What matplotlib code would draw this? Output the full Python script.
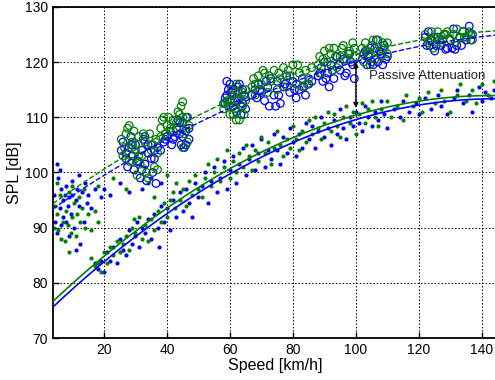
"""
SPL vs speed: microphone level with/without passive attenuation
"""
import matplotlib
matplotlib.use('Agg')
import matplotlib.pyplot as plt
import numpy as np

plt.rcParams['font.family'] = ['Liberation Sans', 'DejaVu Sans']

BLUE = (0, 0, 1)
GREEN = (0, 0.5, 0)

# --- small dots at low speed (not part of the fit) ---
blue_low_speed = [4.5, 5, 5.5, 6, 6.5, 5, 6, 7, 7.5, 8, 8.5, 9, 9.5, 10, 10.5, 11, 11.5, 12, 12.5, 13,
                  13.5, 14, 15, 16, 17, 6.5, 8, 9, 11, 4.2, 7, 10, 12, 14.5, 19,
                  20, 22, 25, 28, 32, 35, 38]
blue_low_spl = [91, 101.5, 99, 100.5, 97, 89, 93.5, 92, 96, 97.5, 94, 95.5, 92.5, 96, 90, 95, 97, 94, 87, 96.5,
                91, 98, 96, 93.5, 97, 90.5, 91, 88.5, 86, 96, 95, 98.5, 99.5, 94.5, 95.5,
                97, 96, 98, 96.5, 97, 99, 98]
green_low_speed = [4.2, 4.5, 5, 5.5, 6, 6.5, 7, 7.5, 8, 8.5, 9, 9.5, 10, 10.5, 11, 11.5, 12, 12.5, 13, 13.5,
                   14, 15, 16, 17, 18, 9, 10, 5,
                   18, 23, 27, 30, 34, 36, 40, 33]
green_low_spl = [90, 94, 92.5, 89.5, 96, 88, 91, 87.5, 93, 90.5, 96.5, 89, 92, 94.5, 88.5, 92.5, 95.5, 91, 93.5, 97,
                 90, 92.5, 89.5, 93, 91, 85.5, 97.5, 98,
                 97.5, 99, 97, 100, 98, 95.5, 99.5, 101]

# --- small dots (attenuated level), blue series ---
blue_dot_speed = [17, 18, 19, 20, 21, 22, 23, 24, 25, 26, 27, 28, 29, 30, 30.5, 31, 32, 33, 34, 35,
                  36, 37, 37.5, 38, 39, 40, 41, 42, 43, 44, 45, 46, 47, 48, 49, 50, 51, 52, 53, 54,
                  55, 56, 57, 58, 59, 60, 61, 62, 63, 64, 65, 66, 67, 68, 69, 70, 71, 72, 73, 74,
                  75, 76, 77, 78, 79, 80, 81, 82, 83, 84, 85, 86, 87, 88, 89, 90, 91, 92, 93, 94,
                  95, 96, 97, 98, 99, 100, 101, 102, 103, 104, 105, 106, 107, 108, 109, 110, 112, 114, 115, 117,
                  119, 120, 122, 124, 126, 127, 129, 131, 132, 134, 136, 137, 139, 140, 141, 143, 144]
blue_dot_spl = [83.5, 82.5, 84, 82, 85.5, 84, 86.5, 83.5, 88, 86, 85, 89.5, 87, 88.5, 91, 86.5, 90, 89, 91.5, 88,
                92.5, 90, 86.5, 94, 91, 93.5, 89.5, 95, 92, 96.5, 93, 97, 94.5, 92, 98, 95.5, 97.5, 100, 94.5, 98.5,
                101, 96.5, 99, 102, 97, 100.5, 103, 98, 101.5, 104.5, 99.5, 102.5, 105, 100.5, 103.5, 106, 101, 104, 102.5, 107,
                104, 101.5, 106.5, 103.5, 108, 105.5, 103, 107, 104.5, 109, 106, 108.5, 104.5, 107.5, 110, 106.5, 108, 105, 109.5, 107,
                111.5, 108, 106, 110, 108.5, 111, 109, 107.5, 112, 110, 108.5, 111, 109.5, 113, 110.5, 108, 111.5, 110, 113, 111,
                112.5, 110.5, 113.5, 111.5, 114, 112, 110.5, 113.5, 115, 112.5, 114, 111, 115.5, 113, 114.5, 113.5, 115]

# --- small dots, green series ---
green_dot_speed = [16, 17, 18, 19, 20, 21, 22, 23, 24, 25, 26, 27, 28, 29, 29.5, 30, 31, 32, 33, 34,
                   35, 36, 37, 38, 39, 40, 41, 42, 42.5, 43, 44, 45, 46, 47, 48, 49, 50, 51, 52, 53,
                   54, 55, 56, 57, 58, 59, 60, 61, 62, 63, 64, 65, 66, 67, 68, 69, 70, 71, 72, 73,
                   74, 75, 76, 77, 78, 79, 80, 81, 82, 83, 84, 85, 86, 87, 88, 89, 90, 91, 92, 93,
                   94, 95, 96, 97, 98, 99, 100, 101, 102, 103, 104, 105, 106, 107, 108, 110, 111, 113, 115, 116,
                   118, 120, 121, 123, 125, 127, 128, 130, 132, 133, 135, 137, 138, 140, 142, 144]
green_dot_spl = [84.5, 83, 83.5, 82, 85.5, 83.5, 86.5, 85, 87.5, 85.5, 87, 88.5, 86, 90, 91.5, 89, 92, 88, 90.5, 87.5,
                 91.5, 89.5, 93, 91, 94.5, 92, 95, 96.5, 93.5, 98, 95, 97, 94, 98.5, 96, 99.5, 97, 95.5, 99, 101.5,
                 97.5, 100, 102.5, 98.5, 101, 104, 99, 102, 100, 103.5, 101, 105, 103, 100.5, 104, 102, 106.5, 103.5, 105.5, 101.5,
                 104.5, 107.5, 105, 103, 106, 104.5, 108.5, 106, 104, 107.5, 105.5, 109.5, 107, 110, 108, 106, 109, 111, 107.5, 110.5,
                 108.5, 106.5, 110, 112, 109, 111, 107, 110.5, 112.5, 109, 111.5, 113, 110, 108.5, 111.5, 113, 110, 112, 109.5, 114,
                 112, 113.5, 111, 114.5, 112.5, 115, 113, 111, 114, 116, 113, 115, 112.5, 116, 114, 116.5]

# --- open circles (unattenuated level), blue series ---
blue_circ_speed = [25.5, 26, 27, 27.5, 28, 29, 29.5, 30, 31, 31.5, 32, 33, 33.5, 34, 35, 35.5, 36, 37, 36.5, 32.5, 28.5,
                   27, 29, 30.5, 32, 34, 35, 36, 33,
                   38, 39, 40, 41, 42, 43, 44, 44.5, 45, 45.5, 46, 46.5, 47, 43.5, 41.5,
                   39.5, 42.5, 44, 45, 46, 47,
                   58, 58.5, 59, 59.5, 60, 60.5, 61, 61.5, 62, 62.5, 63, 63.5, 64, 64.5, 65,
                   59, 60, 61, 62, 63, 64,
                   67, 68, 68.5, 69, 70, 71, 72, 73, 74, 74.5, 75, 76, 77, 78, 79, 80, 81, 82, 83, 84, 85, 72.5,
                   69.5, 71.5, 75.5, 77.5, 80.5, 83.5, 86,
                   88, 89, 89.5, 90, 91, 91.5, 92, 93, 94, 95, 96, 97, 98, 99, 99.5,
                   88.5, 90.5, 92.5, 94.5, 96.5, 98.5,
                   102, 103, 103.5, 104, 105, 105.5, 106, 107, 108, 108.5, 109, 110, 106.5,
                   102.5, 104.5, 107.5, 109.5,
                   122, 123, 123.5, 124, 125, 126, 127, 128, 129, 130, 131, 132, 133, 134, 135, 136, 137, 128.5, 131.5,
                   122.5, 125.5, 127.5, 130.5, 133.5, 136.5]
blue_circ_spl = [104, 105.5, 102.5, 101, 104.5, 103, 100.5, 105, 102, 99, 104, 101.5, 98.5, 103.5, 105, 100, 102.5, 104.5, 98, 106, 106.5,
                 103.5, 105, 102, 100.5, 105, 102.5, 104, 106.5,
                 104, 105.5, 106.5, 107.5, 106, 108, 107, 105, 109, 104.5, 107.5, 110, 106, 109.5, 105,
                 106, 106.5, 109, 106.5, 105, 108,
                 112.5, 113.5, 114, 115, 116, 114.5, 112, 113, 111, 115.5, 113.5, 110.5, 112.5, 114, 111.5,
                 116.5, 113, 115, 113.5, 116, 115,
                 114, 115, 113.5, 116, 114.5, 113, 115.5, 117, 114, 112, 116.5, 112.5, 115.5, 117.5, 114.5, 116.5, 113.5, 115, 117, 114, 116, 112,
                 115, 116.5, 114, 116, 115, 115.5, 116.5,
                 117.5, 119, 116.5, 120, 118, 115.5, 119.5, 117, 121, 118.5, 120.5, 118, 121.5, 119.5, 117,
                 118, 117, 118.5, 119.5, 117.5, 120,
                 120.5, 122, 119.5, 121, 120, 119.5, 122.5, 120, 121.5, 119.5, 123, 121, 124,
                 121.5, 122.5, 122, 120.5,
                 124.5, 125.5, 123, 124, 122, 124.5, 123, 125, 122.5, 124, 126, 123, 124.5, 125.5, 124, 126.5, 125, 122.3, 122.3,
                 123, 123, 124, 122.5, 123, 124]

# --- open circles, green series ---
green_circ_speed = [25.5, 26, 27, 27.5, 28, 28.5, 29, 29.5, 30, 31, 31.5, 32, 33, 33.5, 34, 34.5, 35, 36, 36.5, 37, 30.5,
                    26.5, 28, 29, 31, 32.5, 35.5, 37,
                    38, 38.5, 39, 40, 41, 42, 43, 44, 44.5, 45, 45.5, 46, 46.5, 47, 45, 39.5,
                    38, 40.5, 42, 43.5, 45, 46,
                    58, 59, 59.5, 60, 60.5, 61, 61.5, 62, 62.5, 63, 63.5, 64, 64.5, 65, 62,
                    58.5, 60, 61, 62.5, 64, 65,
                    67, 67.5, 68, 69, 70, 71, 72, 73, 74, 75, 76, 77, 78, 79, 80, 81, 82, 83, 84, 85, 86,
                    68, 70.5, 72.5, 75.5, 78.5, 81.5, 84.5,
                    88, 88.5, 89, 90, 91, 92, 92.5, 93, 94, 95, 96, 97, 98, 99, 100,
                    89.5, 91.5, 93.5, 95.5, 97.5, 99.5,
                    102, 102.5, 103, 104, 105, 106, 106.5, 107, 108, 109, 110, 104.5,
                    103.5, 105.5, 108.5, 110,
                    122, 123, 124, 125, 126, 127, 128, 129, 130, 131, 132, 133, 134, 135, 136, 137, 124.5,
                    123.5, 126.5, 128.5, 131.5, 134.5, 136.5]
green_circ_spl = [106, 103, 107, 108, 108.5, 105, 102, 107.5, 104, 106.5, 101.5, 103, 105.5, 100, 99, 107, 104, 101, 106, 103.5, 99.5,
                  104.5, 102, 105.5, 103, 107, 105, 100.5,
                  106.5, 109.5, 110, 108.5, 108, 107.5, 109, 110.5, 112, 112.8, 107, 110, 105.5, 108.5, 104.5, 107,
                  108, 110, 109.5, 111, 110, 108,
                  111.5, 113, 112, 110.5, 115, 114, 111.5, 116, 113, 109.5, 112, 114.5, 110.5, 113, 109.5,
                  112.5, 113, 110.5, 114.5, 112, 115,
                  115.5, 117, 114, 117.5, 116, 118, 114.5, 116.5, 118.5, 115, 117, 119, 115.5, 117.5, 119.5, 116, 118, 115.5, 118.5, 117, 119,
                  116, 118.5, 117.5, 118, 118.5, 119.5, 116,
                  119.5, 121, 118, 122, 120, 121.5, 118.5, 122.5, 119, 121, 123, 120.5, 122, 123.5, 121,
                  120.5, 122.5, 121, 122.5, 121.5, 122.5,
                  122.5, 120, 123.5, 121.5, 123, 120.5, 122, 124, 121, 122.5, 123.5, 119.5,
                  122, 124, 123.5, 121.5,
                  125, 123.5, 125.5, 124.5, 125.5, 123.5, 125, 125.5, 124, 125, 126, 124.5, 125.5, 124.5, 125.5, 124, 122.5,
                  124, 124, 125, 123.5, 124.5, 125]


def quad_fit(x, y, xs):
    coef = np.polyfit(x, y, 2)
    return np.polyval(coef, xs)


fig = plt.figure(figsize=(4.95, 3.8), dpi=100)
ax = fig.add_axes([0.107, 0.1105, 0.897, 0.8715])

# scatter data
for sp, db, col in [(blue_low_speed, blue_low_spl, BLUE), (green_low_speed, green_low_spl, GREEN),
                    (blue_dot_speed, blue_dot_spl, BLUE), (green_dot_speed, green_dot_spl, GREEN)]:
    ax.scatter(sp, db, s=9, color=col, linewidths=0, zorder=2)
ax.scatter(blue_circ_speed, blue_circ_spl, s=30, facecolors='none', edgecolors=BLUE,
           linewidths=0.9, zorder=2)
ax.scatter(green_circ_speed, green_circ_spl, s=30, facecolors='none', edgecolors=GREEN,
           linewidths=0.9, zorder=2)

# quadratic fits
xs = np.linspace(3.8, 144.8, 200)
ax.plot(xs, quad_fit(green_dot_speed, green_dot_spl, xs), color=GREEN, lw=1.2, zorder=3)
ax.plot(xs, quad_fit(blue_dot_speed, blue_dot_spl, xs), color=BLUE, lw=1.2, zorder=3)
ax.plot(xs, quad_fit(green_circ_speed, green_circ_spl, xs), color=GREEN, lw=1.0, ls='--', zorder=3)
ax.plot(xs, quad_fit(blue_circ_speed, blue_circ_spl, xs), color=BLUE, lw=1.0, ls='--', zorder=3)

# attenuation arrow
ax.annotate('', xy=(100, 120), xytext=(100, 111.7),
            arrowprops=dict(arrowstyle='<|-|>', color='k', lw=1, mutation_scale=7,
                            shrinkA=0, shrinkB=0), zorder=4)
ax.text(104.3, 117.5, 'Passive Attenuation', fontsize=9.5, va='center', ha='left', color='#222222')

ax.set_xlim(3.8, 144.8)
ax.set_ylim(70, 130)
ax.set_xticks([20, 40, 60, 80, 100, 120, 140])
ax.set_yticks(range(70, 131, 10))
ax.tick_params(direction='in', labelsize=10, length=4, width=1)
for s in ax.spines.values():
    s.set_linewidth(1.3)
ax.grid(True, color='k', ls=(0, (1.5, 2)), lw=0.7)
ax.set_axisbelow(True)

ax.set_xlabel('Speed [km/h]', fontsize=11.5, labelpad=1)
ax.set_ylabel('SPL [dB]', fontsize=11.5, labelpad=2)

plt.savefig('out.png', dpi=100)
plt.close(fig)
